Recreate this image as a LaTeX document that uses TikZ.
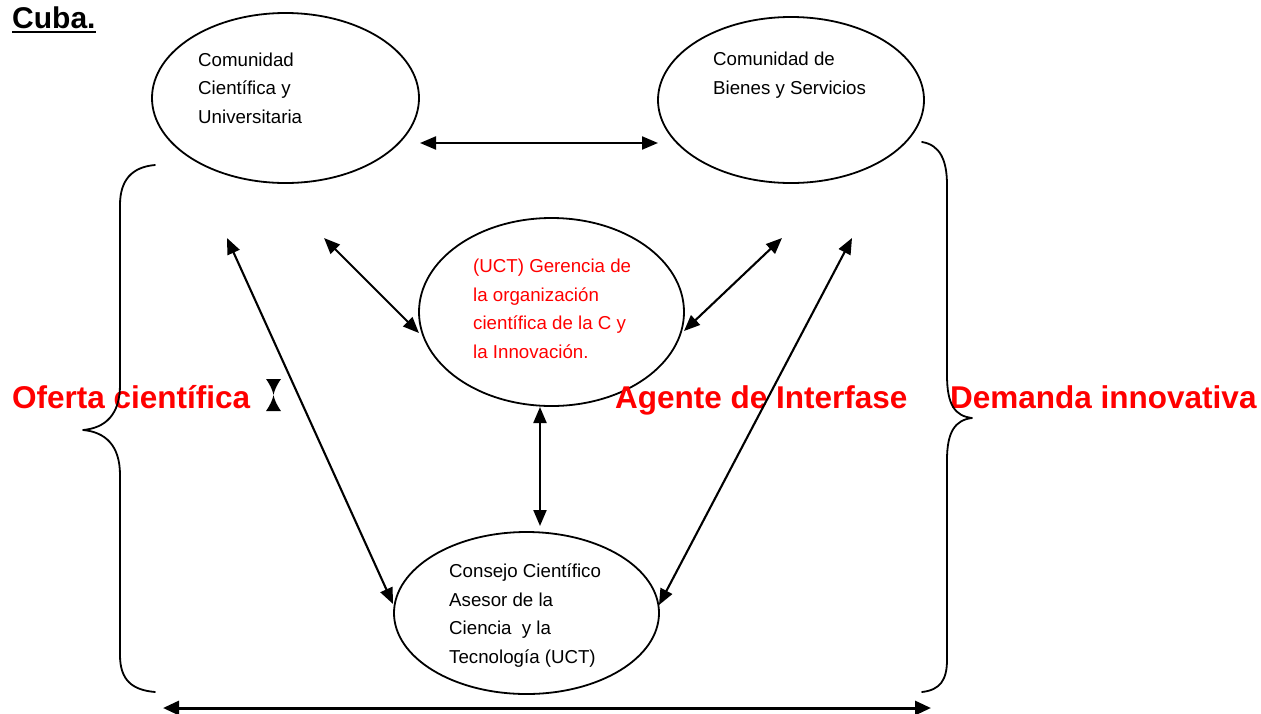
\documentclass[tikz,border=0pt]{standalone}
\usepackage{fontspec}
\setmainfont{Liberation Sans}
\usetikzlibrary{shapes.geometric,arrows.meta}
\tikzset{
  elipse/.style={draw, ellipse, line width=1.8pt, inner sep=0pt},
  texto/.style={align=left, inner sep=0pt, font=\fontsize{18.7}{28.5}\selectfont},
  rotulo/.style={inner sep=0pt, text=red, font=\fontsize{31.5}{36}\selectfont\bfseries},
  flecha/.style={<->, line width=2.1pt},
  llave/.style={line width=1.8pt}
}
\begin{document}
\begin{tikzpicture}[x=1pt, y=-1pt, line join=round, line cap=round, >={Triangle[length=16pt,width=13pt]}]
  \useasboundingbox (0,0) rectangle (1261,713);
  % titulo
  \node[inner sep=0pt, anchor=base west, font=\fontsize{30}{34}\selectfont\bfseries] (cuba) at (12,28) {Cuba.};
  \draw[line width=2.6pt, line cap=butt] ([yshift=-4pt]cuba.base west) -- ([yshift=-4pt]cuba.base east);
  % elipses
  \node[elipse, minimum width=267pt, minimum height=170pt] (ccu) at (285.5,98) {};
  \node[elipse, minimum width=266pt, minimum height=166pt] (cbs) at (791,100) {};
  \node[elipse, minimum width=265pt, minimum height=188pt] (uct) at (551.5,312) {};
  \node[elipse, minimum width=265pt, minimum height=162pt] (ccat) at (526.5,613) {};
  % textos (base de la ultima linea)
  \node[texto, anchor=base west] (tccu) at (198,123) {Comunidad\\Científica y\\Universitaria};
  \node[texto, anchor=base west] (tcbs) at (713,94) {Comunidad de\\Bienes y Servicios};
  \node[texto, anchor=base west, text=red] (tuct) at (473,358) {(UCT) Gerencia de\\la organización\\científica de la C y\\la Innovación.};
  \node[texto, anchor=base west] (tccat) at (449,663) {Consejo Científico\\Asesor de la\\Ciencia~ y la\\Tecnología (UCT)};
  \node[rotulo, anchor=base west] (oferta) at (12,408) {Oferta científica};
  \node[rotulo, anchor=base west] (agente) at (615,408) {Agente de Interfase};
  \node[rotulo, anchor=base west] (demanda) at (950,408) {Demanda innovativa};
  % reloj de arena
  \fill (266,379) -- (281,379) .. controls (276,386) and (274,392) .. (273.5,395)
    .. controls (274,398) and (276,404) .. (281,411) -- (266,411)
    .. controls (271,404) and (273,398) .. (273.5,395)
    .. controls (273,392) and (271,386) .. (266,379) -- cycle;
  % llaves
  \draw[llave] (155,165) .. controls (132,167) and (120,180) .. (120,205) -- (120,385)
    .. controls (120,415) and (105,428) .. (83,430)
    .. controls (105,432) and (120,445) .. (120,475) -- (120,655)
    .. controls (120,680) and (132,690) .. (155,692);
  \draw[llave] (922,142) .. controls (940,145) and (947,160) .. (947,185) -- (947,375)
    .. controls (947,405) and (955,416) .. (972,418)
    .. controls (955,420) and (947,432) .. (947,460) -- (947,660)
    .. controls (947,680) and (940,690) .. (922,692);
  % extremos de las flechas
  \coordinate (a1) at (420,143);  \coordinate (a2) at (658,143);
  \coordinate (b1) at (227,238);  \coordinate (b2) at (393,604);
  \coordinate (c1) at (324,238);  \coordinate (c2) at (419,333);
  \coordinate (d1) at (782,238);  \coordinate (d2) at (684,331);
  \coordinate (e1) at (852,238);  \coordinate (e2) at (659,605);
  \coordinate (f1) at (540,407);  \coordinate (f2) at (540,526);
  \coordinate (g1) at (163,708);  \coordinate (g2) at (931,708);
  % flechas
  \foreach \p/\q in {a1/a2, b1/b2, c1/c2, d1/d2, e1/e2, f1/f2}
    \draw[flecha] (\p) -- (\q);
  \draw[flecha, line width=3pt, >={Triangle[length=16pt,width=14pt]}] (g1) -- (g2);
\end{tikzpicture}
\end{document}
